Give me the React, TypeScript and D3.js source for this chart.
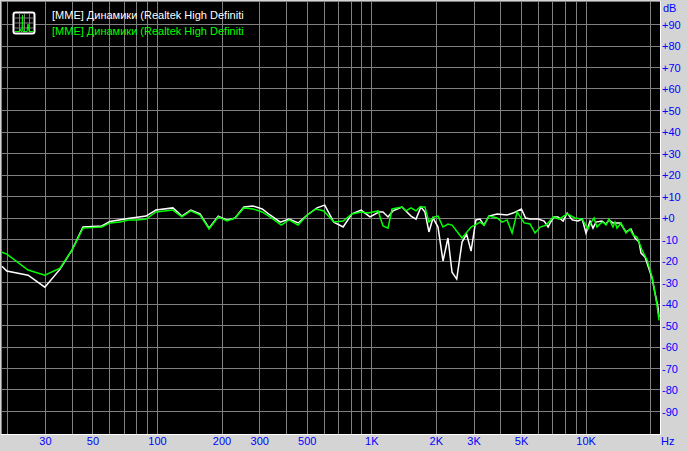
import React from "react";
import * as d3 from "d3";

const width = 687;
const height = 451;

// grid
const gridFreqs = [20, 30, 40, 50, 60, 70, 80, 90, 100, 200, 300, 400, 500, 600, 700, 800, 900,
  1000, 2000, 3000, 4000, 5000, 6000, 7000, 8000, 9000, 10000, 20000];
const gridDb = [90, 80, 70, 60, 50, 40, 30, 20, 10, 0, -10, -20, -30, -40, -50, -60, -70, -80, -90];

// tick labels
const freqTicks = [30, 50, 100, 200, 300, 500, 1000, 2000, 3000, 5000, 10000];
const freqLabels = ["30", "50", "100", "200", "300", "500", "1K", "2K", "3K", "5K", "10K"];

const legendLabel = "[MME] Динамики (Realtek High Definiti";

// white trace
const whiteFreq = [18.8, 19.8, 24.9, 29.8, 35.1, 39.9, 44.9, 55, 60, 72.8, 88.4, 98.4, 118, 130, 143, 158, 174, 192, 211, 230,
  253, 279, 308, 335, 374, 411, 453, 500, 555, 603, 665, 735, 808, 892, 980, 1080, 1128, 1190, 1255, 1383,
  1524, 1608, 1695, 1770, 1848, 1930, 2037, 2149, 2267, 2368, 2490, 2637, 2770, 2905, 3060, 3197, 3338, 3520, 3842, 4278,
  4560, 4990, 5220, 5475, 5980, 6370, 6650, 6800, 7090, 7390, 7810, 8160, 8610, 9160, 9590, 9990, 10430, 10770, 11120, 11860,
  12380, 12790, 13350, 13790, 14400, 15350, 16200, 16910, 17660, 18040, 18840, 19260, 20320, 20970, 21650, 21890];
const whiteDb = [-22.4, -24.7, -26.6, -32.2, -23.8, -14.9, -4.2, -3.7, -1.6, -0.2, 0.9, 3.7, 4.7, 0.9, 3.7, 1.9, -4.7, 0.9, -1, 0,
  5.1, 5.6, 4.2, 1.4, -1.9, -0.5, -2.3, 1.4, 4.7, 6, -1.9, -4.2, 1.9, 3.7, 0.5, 2.8, 2.8, 0.5, 3.3, 5.1,
  0.9, -0.5, 5.1, 2.8, -6.5, 0, -4.2, -20, -9.3, -25.2, -28.4, -11.2, -7.5, -15.4, -0.9, -0.5, -3.3, 0.9, 1.9, 1.4,
  2.3, 4.2, 0, -0.5, -0.5, -1.4, -4.2, -2.3, 0.5, 0.5, -1.4, 2.3, -0.9, -1.4, -0.5, -7, -1.4, -4.7, -1.9, -1.4,
  -2.8, -0.9, -2.3, -2.3, -2.3, -6.5, -5.1, -9.3, -11.2, -16.3, -18.2, -21, -28, -35, -41.5, -46.2];

// green trace
const greenFreq = [18.8, 19.8, 24.9, 29.8, 35.1, 39.9, 44.9, 55, 60, 66.8, 72.8, 80.3, 88.4, 98.4, 118, 130, 143, 158, 174, 192,
  211, 230, 253, 279, 308, 335, 378, 411, 453, 500, 549, 597, 665, 735, 808, 892, 960, 1070, 1128, 1190,
  1243, 1383, 1444, 1524, 1608, 1678, 1770, 1848, 1951, 2037, 2149, 2267, 2368, 2637, 2905, 3033, 3197, 3338, 3520, 3842,
  4055, 4278, 4515, 4765, 5137, 5475, 5780, 6100, 6510, 7030, 7490, 8160, 8880, 9590, 10200, 10650, 10890, 11240, 11740, 11990,
  12380, 12790, 13350, 13640, 13940, 14550, 15350, 16030, 16550, 17280, 18230, 19260, 20320, 20970, 21420, 21890];
const greenDb = [-15.9, -16.8, -24.2, -26.6, -23.3, -14.9, -4.7, -4.2, -2.3, -1.9, -0.9, -0.9, -0.5, 2.8, 3.7, 0.5, 3.3, 1.4, -5.1, 0.5,
  -1.4, 0, 4.7, 4.2, 2.8, 0.5, -3.3, -0.9, -3.3, 1.4, 4.2, 3.3, -1.9, -1.4, 1.9, 2.8, 2.3, 3.3, -3.7, -4.7,
  4.2, 5.1, 3.3, 4.7, 3.3, 5.1, 5.1, -1.9, 0.5, 0.9, -4.2, -2.8, -3.3, -9.3, -4.2, -3.3, -1.9, -3.3, 0.9, 0,
  -1.9, -0.9, -7, 2.8, -2.3, -2.8, -7, -4.2, -3.3, 0.5, -0.5, 1.9, 0, -0.5, -5.1, -1.4, 0, -4.2, -2.3, -1.9,
  -3.3, -0.5, -4.2, -1.9, -4.7, -2.3, -7, -5.1, -7.9, -8.9, -14.9, -19.6, -27.5, -35, -40.6, -47.6];

const x = d3.scaleLog().domain([100, 10000]).range([157.5, 586.1]);
const y = d3.scaleLinear().domain([90, -90]).range([24.5, 411.5]);

const plot = { left: 2, top: 2, right: 660, bottom: 434 };
const snap = (v: number) => Math.floor(v) + 0.5;

const makeLine = (freqs: number[]) =>
  d3.line<number>()
    .x((_, i) => x(freqs[i]))
    .y((d) => y(d));

const font = "'Liberation Sans', Arial, sans-serif";

function dbLabel(d: number) {
  return d >= 0 ? "+" + d : String(d);
}

export default function App() {
  return (
    <svg width={width} height={height} style={{ position: "absolute", left: 0, top: 0 }} fontFamily={font} fontSize={11}>
      <rect width={width} height={height} fill="#d4d4d4" />
      <rect x={plot.left} y={plot.top} width={plot.right - plot.left} height={plot.bottom - plot.top} fill="#000" />

      {gridFreqs.map((f) => (
        <line key={f} x1={snap(x(f))} x2={snap(x(f))} y1={plot.top} y2={plot.bottom} stroke="#808080" />
      ))}
      {gridDb.map((d) => (
        <line key={d} x1={plot.left} x2={plot.right} y1={snap(y(d))} y2={snap(y(d))} stroke="#808080" />
      ))}

      {/* sunken frame */}
      <path d={`M${plot.left - 0.5},${plot.bottom}V${plot.top - 0.5}H${plot.right}`} fill="none" stroke="#808080" />
      <path d={`M${plot.left - 1},${plot.bottom + 0.5}H${plot.right + 0.5}V${plot.top - 1}`} fill="none" stroke="#fff" />

      <path d={makeLine(whiteFreq)(whiteDb) ?? ""} fill="none" stroke="#fff" strokeWidth={1.5} />
      <path d={makeLine(greenFreq)(greenDb) ?? ""} fill="none" stroke="#00ff00" strokeWidth={1.5} />

      {/* legend icon */}
      <g>
        <rect x={13.5} y={12.5} width={21} height={21} rx={2} fill="#000" stroke="#fff" strokeWidth={2} />
        <path d="M15,18H34M15,23H34M15,28H34M19.5,14V33M24.5,14V33M29.5,14V33" stroke="#808080" fill="none" />
        <path d="M15,31.5H19L20,29L21,31.5H22L22.5,15L23,31.5H27L28,24L29,31.5H33" stroke="#00ff00" fill="none" />
      </g>
      <text x={52} y={19} fill="#fff">{legendLabel}</text>
      <text x={52} y={35} fill="#00ff00">{legendLabel}</text>

      <text x={663} y={12} fill="#0000ff">dB</text>
      {gridDb.map((d) => (
        <text key={d} x={662} y={y(d) + 4} fill="#0000ff">{dbLabel(d)}</text>
      ))}
      {freqTicks.map((f, i) => (
        <text key={f} x={x(f)} y={445} textAnchor="middle" fill="#0000ff">{freqLabels[i]}</text>
      ))}
      <text x={661} y={445} fill="#0000ff">Hz</text>
    </svg>
  );
}
